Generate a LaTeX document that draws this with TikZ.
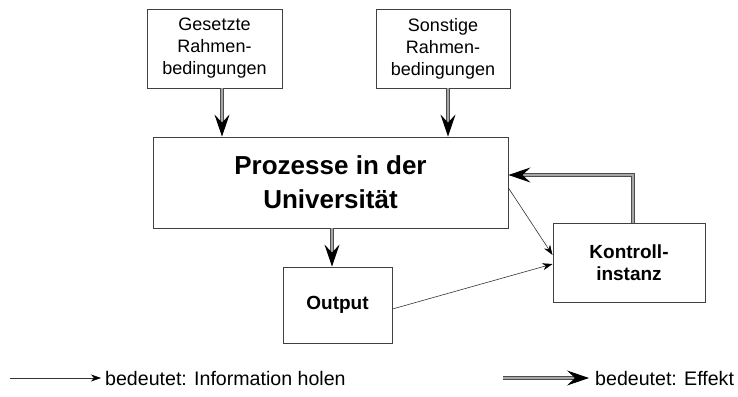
\documentclass[tikz,border=0pt]{standalone}
\usepackage{fontspec}
\setmainfont{Liberation Sans}
\usetikzlibrary{arrows.meta}
\begin{document}
\begin{tikzpicture}[x=1pt,y=-1pt,
  box/.style={draw=black!75,line width=0.9pt,inner sep=0pt,align=center},
  effect/.style={draw=black!70,line width=0.9pt,double=black!35,double distance=1.4pt,-{Stealth[length=22pt,width=15pt,inset=8pt,black,fill=black]}},
  info/.style={draw=black!80,line width=0.6pt,-{Stealth[length=10pt,width=7pt,inset=3pt,black]}},
  small/.style={font=\fontsize{18}{22}\selectfont},
  legend/.style={font=\fontsize{19.6}{22}\selectfont},
  big/.style={font=\bfseries\fontsize{26}{34}\selectfont},
  mid/.style={font=\bfseries\fontsize{19}{22}\selectfont}]
\useasboundingbox (0,0) rectangle (738,396);
\node[box,small,minimum width=135pt,minimum height=79pt] (ges) at (214.5,48.5) {Gesetzte\\Rahmen-\\bedingungen};
\node[box,small,minimum width=134pt,minimum height=79pt] (son) at (443,48.5) {Sonstige\\Rahmen-\\bedingungen};
\node[box,big,minimum width=355pt,minimum height=91pt] (pro) at (330.5,182.5) {Prozesse in der\\Universität};
\node[box,mid,minimum width=109pt,minimum height=76pt] (out) at (337.5,305) {Output};
\node[box,mid,minimum width=152pt,minimum height=79pt] (kon) at (629,262.5) {Kontroll-\\instanz};
\draw[effect] (ges.south -| 222,0) -- (pro.north -| 222,0);
\draw[effect] (son.south -| 448,0) -- (pro.north -| 448,0);
\draw[effect] (pro.south -| 332,0) -- (out.north -| 332,0);
\draw[effect] (kon.north -| 633,0) |- (pro.east |- 0,175);
\draw[info] (pro.east |- 0,188) -- (kon.west |- 0,255);
\draw[info] (out.east |- 0,309) -- (kon.west |- 0,264);
\coordinate (l1a) at (10,378);
\coordinate (l1b) at (101,378);
\draw[info] (l1a) -- (l1b);
\node[legend,anchor=west,inner sep=0pt] (t1) at (105,378) {bedeutet: Information holen};
\coordinate (l2a) at (503,378);
\coordinate (l2b) at (589,378);
\draw[effect] (l2a) -- (l2b);
\node[legend,anchor=west,inner sep=0pt] (t2) at (595,378) {bedeutet: Effekt};
\end{tikzpicture}
\end{document}
